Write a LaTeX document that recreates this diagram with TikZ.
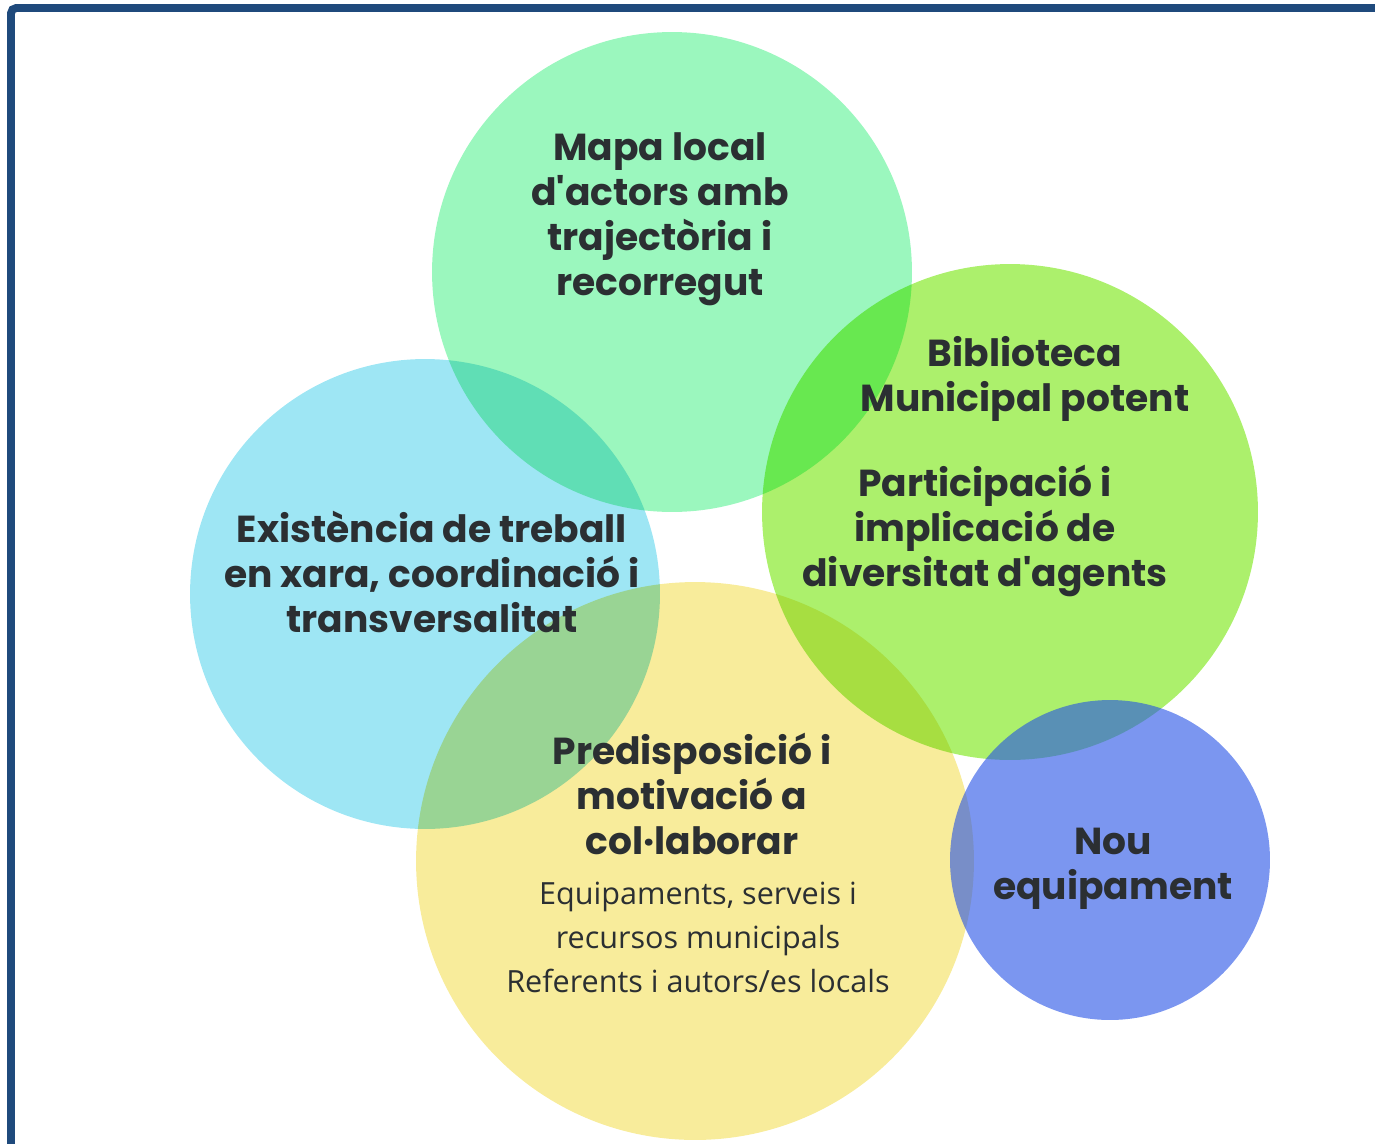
\documentclass[tikz,border=0pt]{standalone}
\usepackage{fontspec}
\newfontfamily\popfont{Poppins}
\newfontfamily\opensans{Open Sans}
\definecolor{frameBlue}{RGB}{31,74,124}
\definecolor{textGray}{RGB}{43,47,50}
\definecolor{mintC}{RGB}{155,247,190}
\definecolor{limeC}{RGB}{172,240,108}
\definecolor{cyanC}{RGB}{158,230,244}
\definecolor{yellowC}{RGB}{248,236,155}
\definecolor{blueC}{RGB}{35,80,230}

\begin{document}
\begin{tikzpicture}
[x=0.02cm,y=-0.02cm,
  circleDecorate/.style={shape=circle,inner sep=0pt,draw=none},%
  bigText/.style={align=center,text=textGray,font=\popfont\bfseries\fontsize{21.4}{25.6}\selectfont},%
  smallText/.style={align=center,text=textGray,font=\opensans\fontsize{17.4}{25}\selectfont}]
\useasboundingbox (0,0) rectangle (1375,1143);
%% frame
\draw[frameBlue,line width=4.5pt,rounded corners=3pt] (11,1150) -- (11,8) -- (1380,8);
%% circles
\begin{scope}[blend mode=multiply]
\node (mapaC) at (672,272) [circleDecorate,fill=mintC,minimum size=9.6cm] {};
\node (biblioC) at (1010,512) [circleDecorate,fill=limeC,minimum size=9.92cm] {};
\node (xarxaC) at (425,594) [circleDecorate,fill=cyanC,minimum size=9.4cm] {};
\node (predisC) at (695,861) [circleDecorate,fill=yellowC,minimum size=11.16cm] {};
\end{scope}
\node (nouC) at (1110,860) [circleDecorate,fill=blueC,fill opacity=0.6,minimum size=6.4cm] {};
%% texts
\node (mapa) at (660,219) [bigText] {Mapa local\\d'actors amb\\trajectòria i\\recorregut};
\node (biblio) at (1025,379) [bigText] {Biblioteca\\Municipal potent};
\node (partic) at (985,531) [bigText] {Participació i\\implicació de\\diversitat d'agents};
\node (xarxa) at (432,572) [bigText] {Existència de treball\\en xara, coordinació i\\transversalitat};
\node (predis) at (692,794) [bigText] {Predisposició i\\motivació a\\col·laborar};
\node (equip) at (698,937) [smallText] {Equipaments, serveis i\\recursos municipals\\Referents i autors/es locals};
\node (nou) at (1113,869) [bigText] {Nou\\equipament};
\end{tikzpicture}
\end{document}
